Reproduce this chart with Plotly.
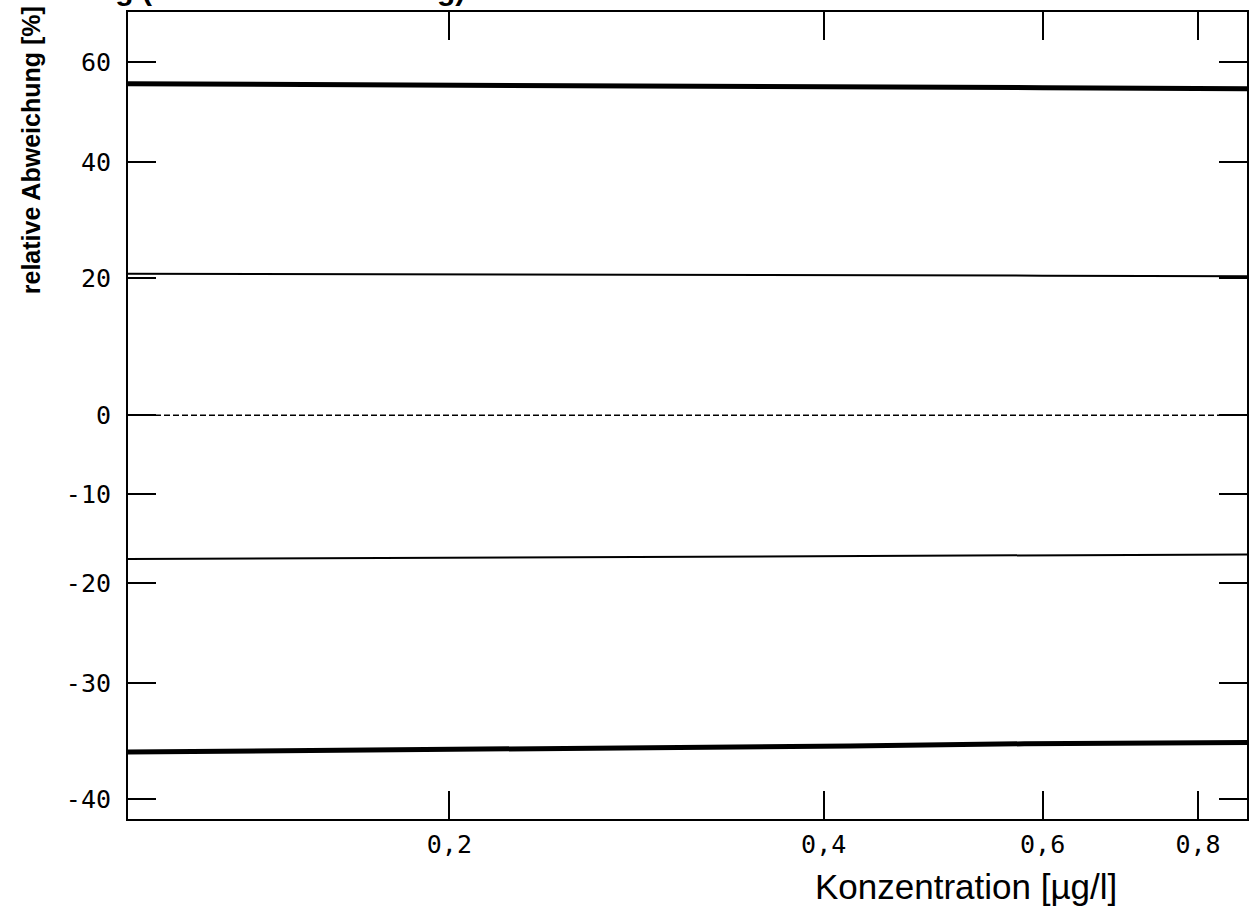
import plotly.graph_objects as go
import numpy as np

# ---- data ----
# concentration [µg/l]
x_upper_thick = [0.1103, 0.2, 0.3, 0.4, 0.6, 0.876]
p_upper_thick = [55.4, 55.2, 55.0, 54.8, 54.6, 54.4]

x_upper_thin = [0.1103, 0.2, 0.3, 0.4, 0.6, 0.876]
p_upper_thin = [20.7, 20.6, 20.6, 20.5, 20.4, 20.3]

x_zero = [0.1103, 0.876]
p_zero = [0.0, 0.0]

x_lower_thin = [0.1103, 0.17, 0.3, 0.4, 0.6, 0.876]
p_lower_thin = [-17.4, -17.3, -17.2, -17.1, -17.0, -16.9]

x_lower_thick = [0.1103, 0.2, 0.27, 0.35, 0.42, 0.58, 0.79, 0.876]
p_lower_thick = [-36.1, -35.9, -35.8, -35.7, -35.6, -35.4, -35.3, -35.3]

x_tick_vals = [0.2, 0.4, 0.6, 0.8]
x_tick_text = ["0,2", "0,4", "0,6", "0,8"]
y_tick_pct = [60, 40, 20, 0, -10, -20, -30, -40]
y_tick_text = ["60", "40", "20", "0", "-10", "-20", "-30", "-40"]

x_range = [0.1103, 0.876]
y_range_pct = [-41.55, 70.97]

title_text = "Streuung (Standardabweichung) und"
x_title = "Konzentration [µg/l]"
y_title = "relative Abweichung [%]"


def ratio(p):
    return [1 + v / 100.0 for v in p]


fig = go.Figure()
fig.add_trace(go.Scatter(x=x_upper_thick, y=ratio(p_upper_thick), mode="lines",
                         line=dict(color="black", width=5), showlegend=False))
fig.add_trace(go.Scatter(x=x_upper_thin, y=ratio(p_upper_thin), mode="lines",
                         line=dict(color="black", width=2), showlegend=False))
fig.add_trace(go.Scatter(x=x_zero, y=ratio(p_zero), mode="lines",
                         line=dict(color="black", width=1.6, dash="6px,3px"), showlegend=False))
fig.add_trace(go.Scatter(x=x_lower_thin, y=ratio(p_lower_thin), mode="lines",
                         line=dict(color="black", width=2), showlegend=False))
fig.add_trace(go.Scatter(x=x_lower_thick, y=ratio(p_lower_thick), mode="lines",
                         line=dict(color="black", width=5), showlegend=False))

tickfont = dict(family="DejaVu Sans Mono", size=25, color="black")

fig.update_xaxes(type="log", range=[np.log10(x_range[0]), np.log10(x_range[1])],
                 tickvals=x_tick_vals, ticktext=x_tick_text,
                 showline=True, linecolor="black", linewidth=2, mirror="ticks",
                 ticks="inside", ticklen=28, tickwidth=2, tickcolor="black",
                 showgrid=False, zeroline=False, tickfont=tickfont,
                 ticklabelstandoff=2)
fig.update_yaxes(type="log", range=[np.log10(1 + y_range_pct[0] / 100), np.log10(1 + y_range_pct[1] / 100)],
                 tickvals=ratio(y_tick_pct), ticktext=y_tick_text,
                 showline=True, linecolor="black", linewidth=2, mirror="ticks",
                 ticks="inside", ticklen=28, tickwidth=2, tickcolor="black",
                 showgrid=False, zeroline=False, tickfont=tickfont,
                 ticklabelstandoff=10)

fig.update_layout(
    width=1250, height=909,
    margin=dict(l=128, r=1, t=12, b=90),
    paper_bgcolor="white", plot_bgcolor="white",
    annotations=[
        dict(text="<b>" + title_text + "</b>", xref="paper", yref="paper",
             x=-128 / 1121, y=1, xanchor="left", yanchor="bottom", yshift=4,
             showarrow=False, font=dict(family="Liberation Sans", size=30, color="black")),
        dict(text="<b>" + y_title + "</b>", xref="paper", yref="paper",
             x=-97 / 1121, y=(818.7 - 150) / 806.7, xanchor="center", yanchor="middle",
             textangle=-90, showarrow=False,
             font=dict(family="Liberation Sans", size=25, color="black")),
        dict(text=x_title, xref="paper", yref="paper",
             x=(967.5 - 128) / 1121, y=0, xanchor="center", yanchor="middle", yshift=-(886 - 818.7),
             showarrow=False, font=dict(family="Liberation Sans", size=35, color="black")),
    ],
)

fig.write_html("out.html")
